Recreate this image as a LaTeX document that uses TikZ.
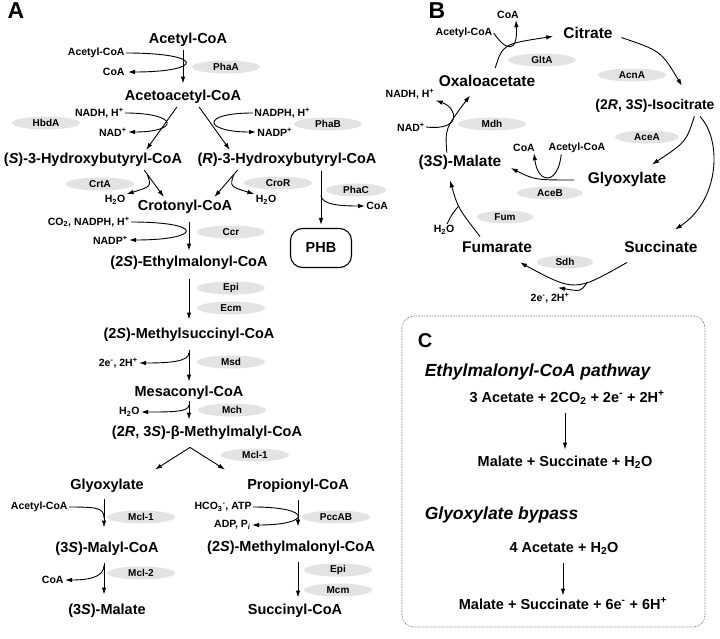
\documentclass[tikz,border=0pt]{standalone}
\usepackage{fontspec}
\setmainfont{Liberation Sans}
\usetikzlibrary{arrows.meta,shapes.geometric}

\begin{document}
\begin{tikzpicture}[x=1pt, y=-1pt, line width=0.9pt,
    cpd/.style = {font=\fontsize{14.5}{17}\selectfont\bfseries, inner sep=1pt, text height=11pt, text depth=3pt},
    cpdb/.style = {cpd, font=\fontsize{15.5}{18}\selectfont\bfseries},
    cof/.style = {font=\fontsize{10.5}{12}\selectfont\bfseries, inner sep=1pt},
    enz/.style = {ellipse, fill=gray!22, minimum width=68pt, minimum height=13pt, inner sep=0pt, font=\fontsize{10}{12}\selectfont\bfseries},
    lbl/.style = {font=\fontsize{23}{26}\selectfont\bfseries},
    arr/.style = {-{Latex[length=7pt,width=4.5pt]}}]
    \useasboundingbox (0,0) rectangle (720,639);

    % A: ethylmalonyl-CoA pathway
    \node[lbl] (la) at (16,11) {A};
    \node[cpd] (acoa) at (188,40) {Acetyl-CoA};
    \node[cof, anchor=east] (acoa2) at (126,53) {Acetyl-CoA};
    \node[cof, anchor=east] (coa1) at (126,72) {CoA};
    \node[enz] (phaa) at (226,67) {PhaA};
    \node[cpd] (acac) at (183,97) {Acetoacetyl-CoA};
    \draw[arr, shorten <=2pt, shorten >=5pt] (acac.north |- acoa.south) -- (acac.north);
    \draw[arr, shorten >=2pt] (acoa2.east) .. controls +(80,0) and +(78,0) .. (coa1.east);

    \node[cof, anchor=east] (nadh) at (125,113) {NADH,\ H\textsuperscript{+}};
    \node[cof, anchor=east] (nad) at (128,132) {NAD\textsuperscript{+}};
    \node[enz] (hbda) at (46,123) {HbdA};
    \node[cof, anchor=west] (nadph) at (253,113) {NADPH,\ H\textsuperscript{+}};
    \node[cof, anchor=west] (nadp) at (256,132) {NADP\textsuperscript{+}};
    \node[enz] (phab) at (328,124) {PhaB};
    \node[cpd] (shb) at (93,160) {(\textit{S})-3-Hydroxybutyryl-CoA};
    \node[cpd] (rhb) at (287,160) {(\textit{R})-3-Hydroxybutyryl-CoA};
    \draw[arr, shorten <=2pt, shorten >=2pt] ([xshift=-5pt]acac.south) -- ([xshift=52pt]shb.north);
    \draw[arr, shorten <=2pt, shorten >=2pt] ([xshift=15pt]acac.south) -- ([xshift=-56pt]rhb.north);
    \draw[arr] (nadh.east) .. controls +(54,0) and +(52,0) .. (nad.east);
    \draw[arr] (nadph.west) .. controls +(-54,0) and +(-52,0) .. (nadp.west);

    \node[cpd] (crot) at (185,207) {Crotonyl-CoA};
    \node[enz] (crta) at (100,184) {CrtA};
    \node[enz] (cror) at (278,183) {CroR};
    \node[cof] (h2oa) at (115,200) {H\textsubscript{2}O};
    \node[cof] (h2ob) at (266,200) {H\textsubscript{2}O};
    \draw[arr, shorten <=2pt, shorten >=2pt] ([xshift=50pt]shb.south) -- ([xshift=-20pt]crot.north) coordinate[pos=0.2] (crtp);
    \draw[arr] (crtp) .. controls +(4,12) .. (h2oa.north east);
    \draw[arr, shorten <=2pt, shorten >=2pt] ([xshift=-48pt]rhb.south) -- ([xshift=28pt]crot.north) coordinate[pos=0.2] (crop);
    \draw[arr] (crop) .. controls +(-4,12) .. (h2ob.north west);

    \node[enz, minimum width=60pt] (phac) at (356,190) {PhaC};
    \node[cpd, draw, rounded corners=12pt, minimum width=61pt, minimum height=39pt, line width=1.1pt] (phb) at (321,248) {PHB};
    \node[cof, anchor=west] (coa2) at (365,206) {CoA};
    \draw[arr, shorten <=3pt, shorten >=3pt] (rhb.south -| phb.north) -- (phb.north) coordinate[pos=0.45] (phcp);
    \draw[arr] (phcp) .. controls +(0,10) and +(-22,0) .. (coa2.west);

    \node[cof, anchor=east] (co2) at (131,222) {CO\textsubscript{2}, NADPH,\ H\textsuperscript{+}};
    \node[cof, anchor=east] (nadp2) at (129,240) {NADP\textsuperscript{+}};
    \node[enz] (ccr) at (231,232) {Ccr};
    \node[cpd] (emc) at (189,262) {(2\textit{S})-Ethylmalonyl-CoA};
    \draw[arr, shorten <=7pt, shorten >=3pt] (emc.north |- crot.south) -- (emc.north);
    \draw[arr] (co2.east) .. controls +(75,0) and +(73,0) .. (nadp2.east);

    \node[enz] (epi1) at (231,288) {Epi};
    \node[enz] (ecm) at (231,308) {Ecm};
    \node[cpd] (msc) at (189,334) {(2\textit{S})-Methylsuccinyl-CoA};
    \draw[arr, shorten <=9pt, shorten >=6pt] (emc.south) -- (msc.north -| emc.south);

    \node[enz] (msd) at (231,362) {Msd};
    \node[cof, anchor=east] (e2a) at (139,363) {2e\textsuperscript{-},\ 2H\textsuperscript{+}};
    \node[cpd] (mes) at (189,392) {Mesaconyl-CoA};
    \draw[arr, shorten <=8pt, shorten >=2pt] (msc.south) -- (mes.north -| msc.south) coordinate[pos=0.25] (msdp);
    \draw[arr] (msdp) .. controls +(0,9) and +(30,0) .. (e2a.east);

    \node[enz] (mch) at (232,410) {Mch};
    \node[cof, anchor=east] (h2oc) at (141,412) {H\textsubscript{2}O};
    \node[cpd] (bmm) at (207,432) {(2\textit{R}, 3\textit{S})-β-Methylmalyl-CoA};
    \draw[arr, shorten <=1pt, shorten >=4pt] (mes.south) -- (mes.south |- bmm.north) coordinate[pos=0.2] (mchp);
    \draw[arr] (mchp) .. controls +(0,7) and +(30,0) .. (h2oc.east);

    \node[enz] (mcl1a) at (255,455) {Mcl-1};
    \node[cpd] (glxa) at (107,485) {Glyoxylate};
    \node[cpd] (prop) at (298,485) {Propionyl-CoA};
    \draw[arr] ([xshift=-17pt,yshift=-7pt]bmm.south) -- ([xshift=48pt,yshift=7pt]glxa.north);
    \draw[arr] ([xshift=-17pt,yshift=-7pt]bmm.south) -- ([xshift=-73pt,yshift=7pt]prop.north);

    \node[cof, anchor=east] (acoa3) at (69,507) {Acetyl-CoA};
    \node[enz] (mcl1b) at (141,517) {Mcl-1};
    \node[cpd] (maly) at (107,548) {(3\textit{S})-Malyl-CoA};
    \draw[arr, shorten <=6pt, shorten >=12pt] ([xshift=-3pt]glxa.south) -- ([xshift=-3pt]maly.north) coordinate[pos=0.53] (mclp);
    \draw (acoa3.east) .. controls +(28,0) and +(0,-10) .. (mclp);

    \node[enz] (mcl2) at (141,573) {Mcl-2};
    \node[cof, anchor=east] (coa3) at (65,580) {CoA};
    \node[cpd] (mal) at (107,610) {(3\textit{S})-Malate};
    \draw[arr, shorten <=7pt, shorten >=7pt] ([xshift=-3pt]maly.south) -- ([xshift=-3pt]mal.north) coordinate[pos=0.2] (mcl2p);
    \draw[arr] (mcl2p) .. controls +(0,10) and +(28,0) .. (coa3.east);

    \node[cof, anchor=east] (hco3) at (253,507) {HCO\textsubscript{3}\textsuperscript{-}, ATP};
    \node[cof, anchor=east] (adp) at (252,525) {ADP,\ P\textsubscript{\textit{i}}};
    \node[enz] (pccab) at (336,517) {PccAB};
    \node[cpd] (mmc) at (291,547) {(2\textit{S})-Methylmalonyl-CoA};
    \draw[arr, shorten <=7pt, shorten >=12pt] (prop.south) -- (prop.south |- mmc.north);
    \draw[arr] (hco3.east) .. controls +(60,0) and +(60,0) .. (adp.east);
    \node[enz] (epi2) at (338,570) {Epi};
    \node[enz] (mcm) at (338,590) {Mcm};
    \node[cpd] (suc) at (295,610) {Succinyl-CoA};
    \draw[arr, shorten <=7pt, shorten >=4pt] (prop.south |- mmc.south) -- (prop.south |- suc.north);

    % B: glyoxylate cycle
    \node[lbl] (lb) at (437,11) {B};
    \node[cpdb] (cit) at (588,35) {Citrate};
    \node[cof] (acb) at (464,33) {Acetyl-CoA};
    \node[cof] (coab) at (508,15) {CoA};
    \node[enz] (glta) at (542,60) {GltA};
    \node[enz] (acna) at (632,75) {AcnA};
    \node[cpdb] (oxa) at (487,83) {Oxaloacetate};
    \node[cpdb, font=\fontsize{14}{17}\selectfont\bfseries] (iso) at (655,106) {(2\textit{R}, 3\textit{S})-Isocitrate};
    \node[cof] (nadhb) at (410,94) {NADH, H\textsuperscript{+}};
    \node[cof] (nadb) at (411,127) {NAD\textsuperscript{+}};
    \node[enz] (mdh) at (492,124) {Mdh};
    \node[enz, minimum width=64pt] (acea) at (647,137) {AceA};
    \node[cof] (coac) at (524,148) {CoA};
    \node[cof] (acc) at (577,148) {Acetyl-CoA};
    \node[cpdb] (malb) at (460,163) {(3\textit{S})-Malate};
    \node[cpdb] (glxb) at (627,180) {Glyoxylate};
    \node[enz, minimum width=66pt] (aceb) at (550,193) {AceB};
    \node[enz, minimum width=56pt] (fum) at (505,217) {Fum};
    \node[cof] (h2od) at (444,230) {H\textsubscript{2}O};
    \node[cpdb] (fmr) at (497,248) {Fumarate};
    \node[cpdb] (scn) at (661,248) {Succinate};
    \node[enz, minimum width=56pt] (sdh) at (565,262) {Sdh};
    \node[cof] (e2b) at (550,298) {2e\textsuperscript{-}, 2H\textsuperscript{+}};

    \draw[arr, shorten <=7pt, shorten >=9pt] ([xshift=6pt]oxa.north) .. controls (503,44) .. (cit.west);
    \draw[arr] (acb.east) .. controls (505,50) and (518,55) .. ([xshift=8pt]coab.south);
    \draw[arr, shorten <=8pt, shorten >=2pt] (cit.east) .. controls (661,51) .. ([xshift=28pt,yshift=10pt]iso.north);
    \draw[arr, shorten <=2pt] ([xshift=40pt]iso.south) .. controls (686,142) .. ([xshift=25pt,yshift=7pt]glxb.north);
    \draw[arr, shorten <=3pt] ([xshift=43pt]iso.south) .. controls (722,140) and (720,200) .. ([xshift=14pt,yshift=10pt]scn.north);
    \draw[arr] ([xshift=-34pt,yshift=-6pt]scn.south) .. controls (575,292) .. ([xshift=23pt,yshift=-6pt]fmr.south) coordinate[pos=0.35] (sdhp);
    \draw[arr] (sdhp) .. controls +(-6,9) .. ([xshift=8pt,yshift=4pt]e2b.north);
    \draw[arr] ([xshift=-17pt,yshift=3pt]fmr.north) .. controls (458,208) .. ([xshift=-10pt,yshift=-9pt]malb.south) coordinate[pos=0.55] (fump);
    \draw ([xshift=3pt]h2od.north) .. controls (452,214) .. (fump);
    \draw[arr, shorten <=2pt] ([xshift=-13pt]malb.north) .. controls (445,129) .. ([xshift=-17pt,yshift=-4pt]oxa.south);
    \draw[arr] (nadb.east) .. controls (462,131) and (458,108) .. (nadhb.south east);
    \draw[arr, shorten <=12pt] (glxb.west) .. controls (535,180) .. ([xshift=8pt,yshift=-5pt]malb.east);
    \draw[arr] ([xshift=14pt]acc.south west) .. controls (558,185) and (538,185) .. ([xshift=10pt]coac.south);

    % C: net balances
    \draw[densely dotted, gray!60!black, line width=0.6pt, rounded corners=12pt] (402,316) rectangle (705,627);
    \node[lbl, font=\fontsize{20}{24}\selectfont\bfseries] (lc) at (425,341) {C};
    \node[anchor=west, font=\fontsize{17.5}{20}\selectfont\bfseries\itshape] (emp) at (421,372) {Ethylmalonyl-CoA pathway};
    \node[cpd] (r1) at (567,398) {3 Acetate + 2CO\textsubscript{2} + 2e\textsuperscript{-} + 2H\textsuperscript{+}};
    \node[cpd] (p1) at (565,462) {Malate + Succinate + H\textsubscript{2}O};
    \draw[arr, shorten <=7pt, shorten >=4pt] (p1.north |- r1.south) -- (p1.north);
    \node[anchor=west, font=\fontsize{17.5}{20}\selectfont\bfseries\itshape] (gbp) at (421,515) {Glyoxylate bypass};
    \node[cpd] (r2) at (564,548) {4 Acetate + H\textsubscript{2}O};
    \node[cpd] (p2) at (563,605) {Malate + Succinate + 6e\textsuperscript{-} + 6H\textsuperscript{+}};
    \draw[arr, shorten <=7pt, shorten >=1pt] (p2.north |- r2.south) -- (p2.north);
\end{tikzpicture}
\end{document}
